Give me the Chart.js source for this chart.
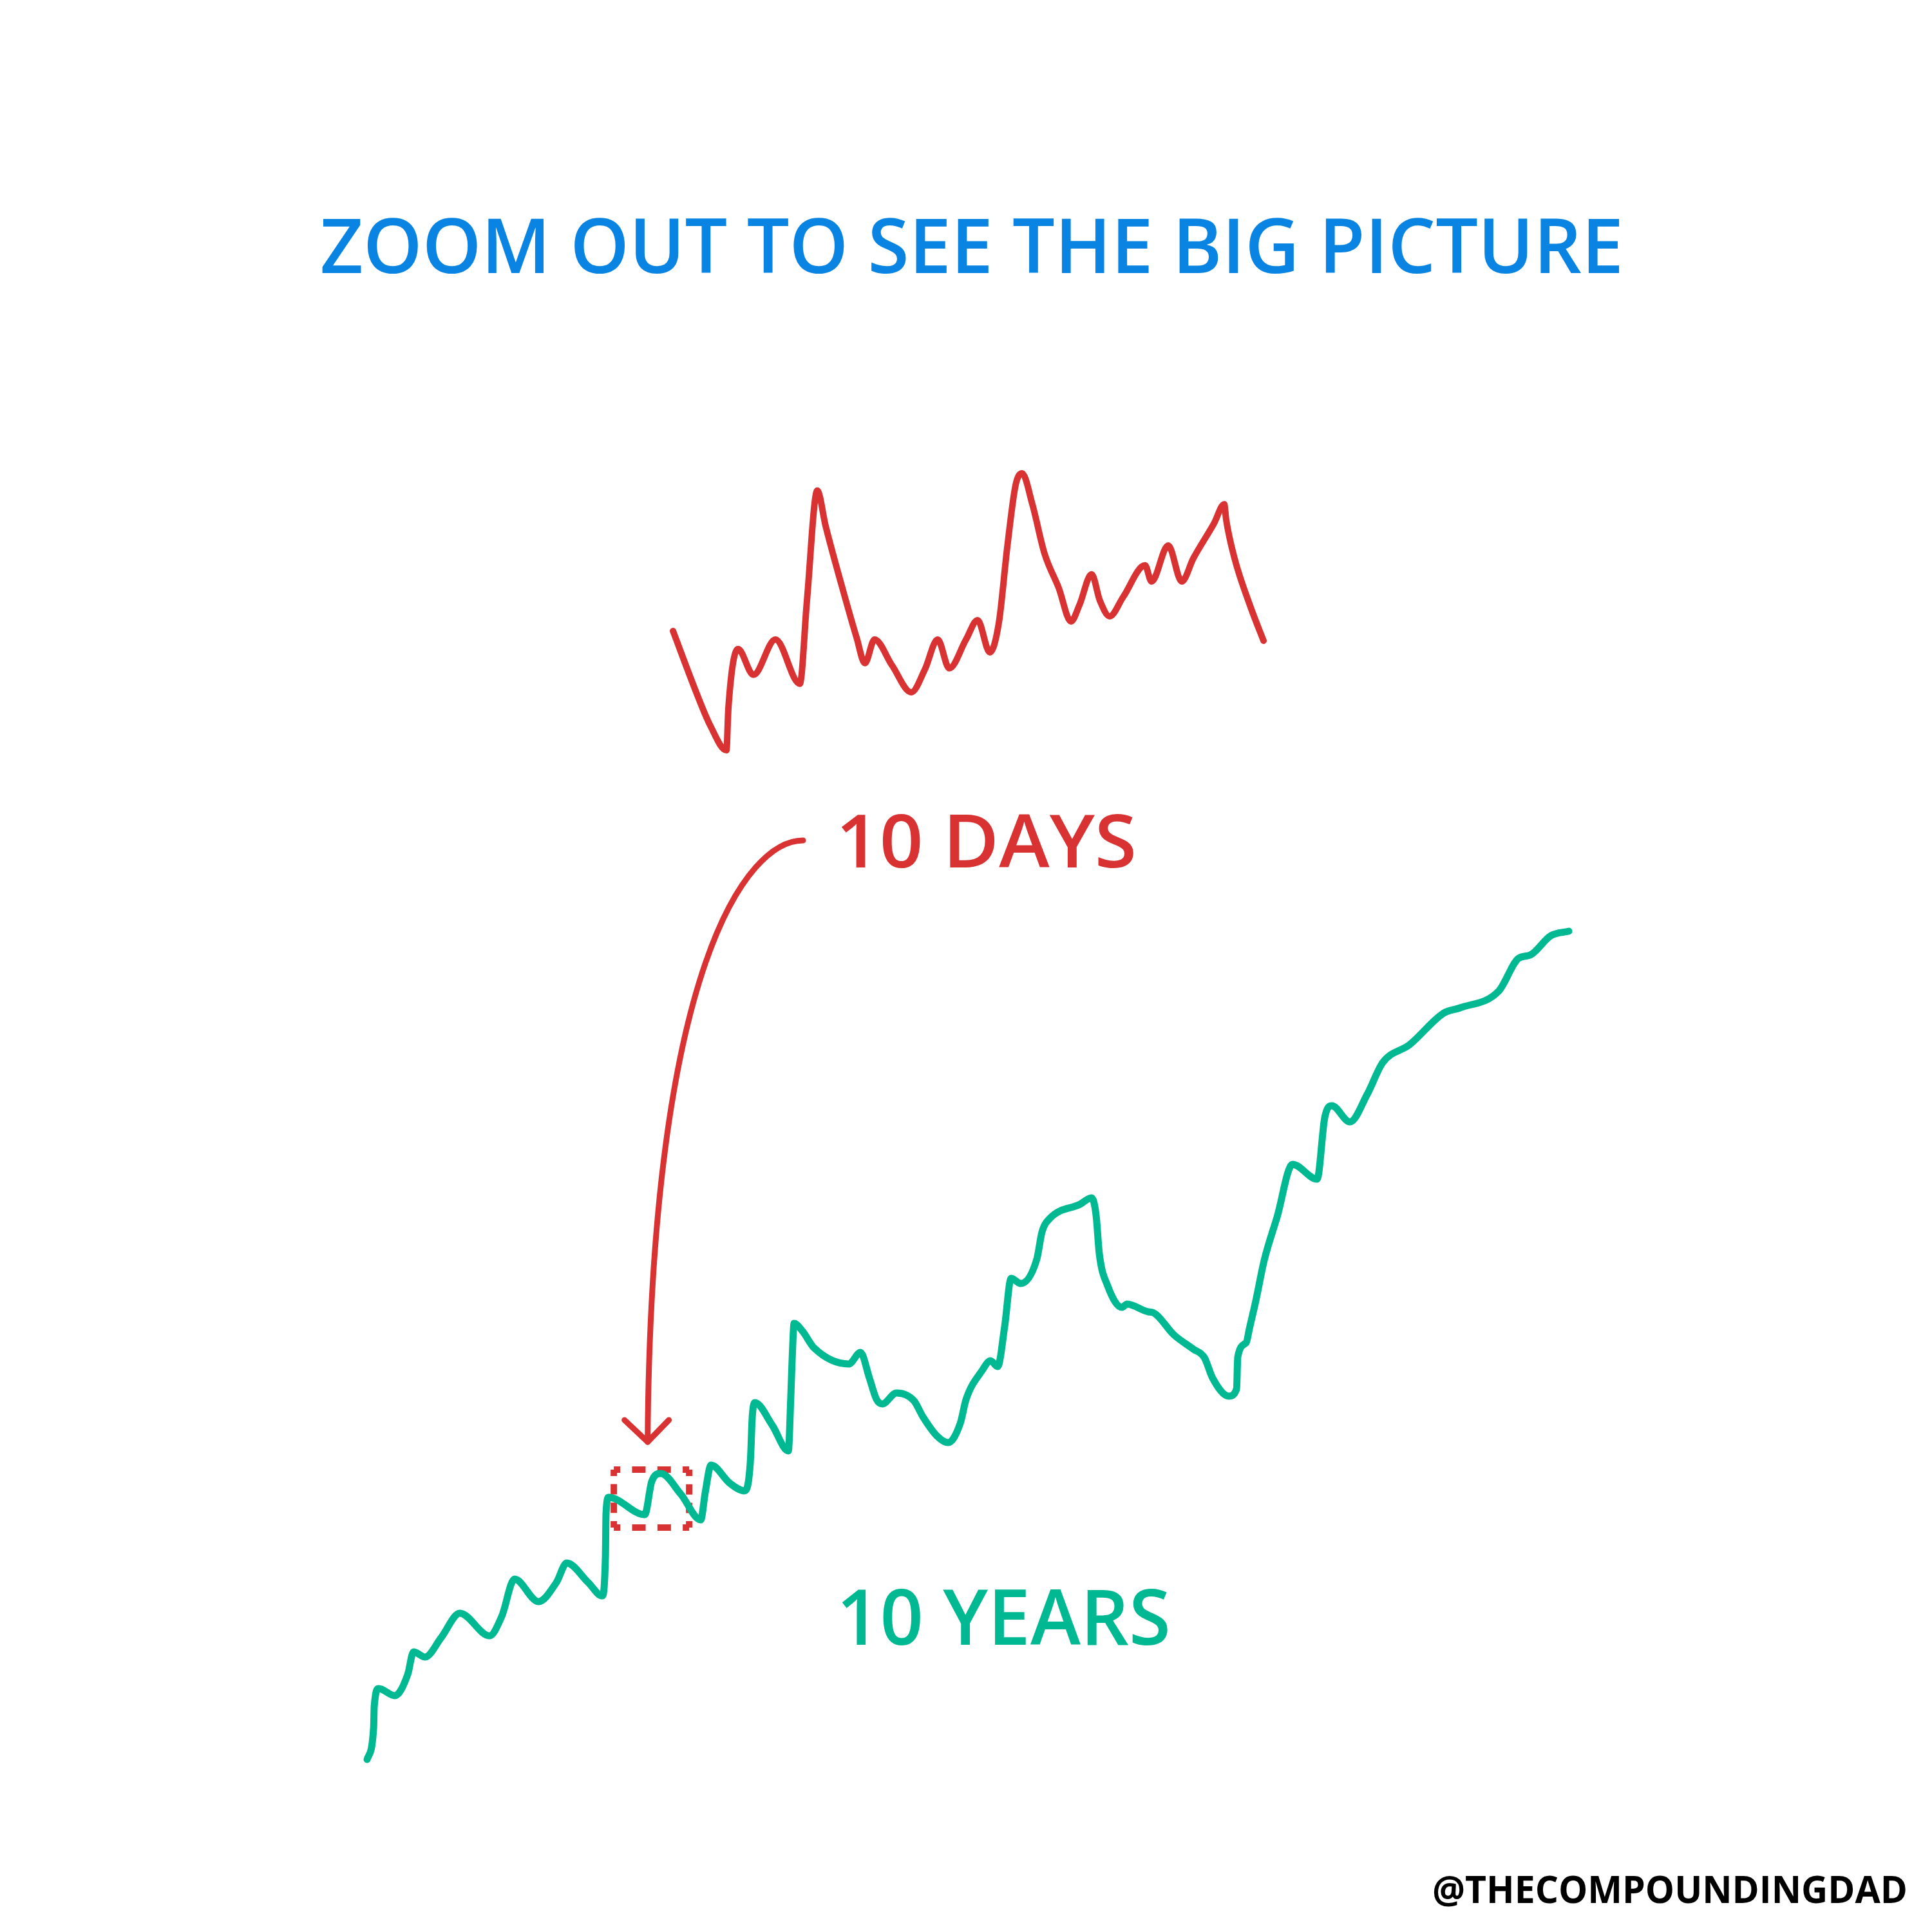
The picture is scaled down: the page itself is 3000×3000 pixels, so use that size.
<!DOCTYPE html>
<html>
<head>
<meta charset="utf-8">
<script src="https://cdn.jsdelivr.net/npm/chart.js@4.4.1/dist/chart.umd.min.js"></script>
<style>
  html, body { margin: 0; padding: 0; background: #ffffff; }
  #wrap { position: relative; width: 3000px; height: 3000px; overflow: hidden; background: #ffffff; }
  #chart { position: absolute; left: 0; top: 0; }
  .lbl { position: absolute; white-space: nowrap; transform-origin: 0 0; font-family: "Open Sans", "DejaVu Sans", sans-serif; font-weight: 600; margin: 0; }
</style>
</head>
<body>
<div id="wrap">
  <canvas id="chart" width="3000" height="3000"></canvas>
  <div class="lbl" id="title"></div>
  <div class="lbl" id="daysLbl"></div>
  <div class="lbl" id="yearsLbl"></div>
  <div class="lbl" id="handle"></div>
</div>
<script>
// ---------- DATA ----------
// 10-day price path (x = day, y = price index)
const redDays = [0.000, 0.414, 0.633, 0.905, 0.938, 1.101, 1.363, 1.734, 2.148, 2.268, 2.443, 2.585, 2.868, 3.108, 3.250, 3.413, 3.708, 4.035, 4.264, 4.482, 4.678, 4.962, 5.158, 5.365, 5.518, 5.660, 5.802, 5.911, 6.085, 6.292, 6.532, 6.739, 6.881, 7.088, 7.230, 7.394, 7.623, 7.993, 8.103, 8.386, 8.615, 8.811, 9.160, 9.335, 9.367, 9.509, 9.782, 10.000];
const redPrices = [104.63, 102.13, 100.95, 100.00, 101.63, 103.93, 102.93, 104.30, 102.58, 105.80, 110.08, 108.70, 106.30, 104.38, 103.38, 104.30, 103.30, 102.25, 103.13, 104.30, 103.18, 104.30, 105.05, 103.80, 104.95, 107.88, 110.30, 110.75, 109.55, 107.63, 106.30, 105.00, 105.63, 106.83, 105.80, 105.20, 105.95, 107.18, 106.55, 107.95, 106.55, 107.45, 108.80, 109.55, 108.95, 107.45, 105.55, 104.25];

// 10-year price path (x = year, y = price index)
const greenYears = [0.000, 0.054, 0.059, 0.096, 0.230, 0.338, 0.386, 0.482, 0.616, 0.772, 1.018, 1.120, 1.227, 1.426, 1.576, 1.661, 1.838, 1.956, 1.983, 1.988, 2.010, 2.310, 2.369, 2.444, 2.610, 2.776, 2.814, 2.862, 3.017, 3.140, 3.189, 3.205, 3.226, 3.371, 3.505, 3.526, 3.537, 3.553, 3.623, 3.719, 4.009, 4.105, 4.180, 4.239, 4.287, 4.405, 4.550, 4.625, 4.743, 4.834, 4.936, 4.984, 5.118, 5.188, 5.247, 5.305, 5.359, 5.439, 5.573, 5.616, 5.681, 5.932, 6.029, 6.066, 6.093, 6.163, 6.281, 6.324, 6.501, 6.538, 6.715, 6.876, 6.967, 7.036, 7.170, 7.235, 7.245, 7.315, 7.342, 7.395, 7.465, 7.572, 7.701, 7.905, 7.969, 8.028, 8.178, 8.323, 8.451, 8.676, 8.960, 9.094, 9.416, 9.582, 9.678, 9.850, 10.000];
const greenPrices = [100.0, 109.8, 116.4, 122.0, 119.8, 126.4, 133.4, 131.8, 137.8, 145.4, 138.4, 144.4, 156.0, 149.0, 155.0, 161.0, 155.0, 150.8, 163.0, 176.4, 181.4, 176.0, 186.4, 188.8, 182.4, 174.4, 183.0, 191.4, 185.8, 183.4, 192.4, 206.4, 210.8, 203.8, 195.8, 213.0, 224.4, 235.4, 233.0, 227.8, 222.8, 226.4, 218.4, 211.8, 210.4, 213.8, 211.4, 206.4, 200.4, 198.4, 204.4, 211.8, 220.8, 223.8, 222.0, 234.4, 249.4, 247.8, 255.4, 263.8, 268.0, 272.4, 274.4, 269.0, 257.0, 247.0, 240.4, 241.4, 239.0, 238.8, 231.8, 227.4, 224.8, 218.4, 212.8, 215.0, 225.0, 229.4, 233.8, 242.4, 255.0, 268.4, 284.8, 280.2, 299.4, 303.0, 298.0, 306.6, 316.4, 322.0, 331.8, 333.4, 338.6, 348.8, 349.8, 355.8, 357.2];

// dotted box corners: the 10-day window inside the 10-year path (TL, TR, BR, BL)
const boxYears = [2.053, 2.680, 2.680, 2.053];
const boxPrices = [190, 190, 172, 172];

// texts
const titleText = "ZOOM OUT TO SEE THE BIG PICTURE";
const daysText = "10 DAYS";
const yearsText = "10 YEARS";
const handleText = "@THECOMPOUNDINGDAD";

// ---------- STYLE / LAYOUT ----------
const BLUE = "#0a84e2", RED = "#d83232", GREEN = "#00b993";
const layout = {
  title:  { x: 500,  y: 340,  w: 2014, h: 85, color: BLUE, weight: 600 },
  days:   { x: 1306, y: 1265, w: 454,  h: 83, color: RED, weight: 600 },
  years:  { x: 1307, y: 2468, w: 506,  h: 87, color: GREEN, weight: 600 },
  handle: { x: 2226, y: 2912, w: 733,  h: 43, color: "#000000", weight: 700 }
};
// hidden axis windows that place each series on the page
const axes = {
  xDays:  { min: -11.396, max: 21.319 },
  yDays:  { min: 54.125,  max: 129.125 },
  xYears: { min: -3.055,  max: 13.022 },
  yYears: { min: 46.4,    max: 646.4 }
};
// dash styles of box edges: horizontal edges / vertical edges
const dashH = { dash: [21, 18.3], offset: 11 };
const dashV = { dash: [16, 12.7], offset: 6 };

function zip(xs, ys) { return xs.map((x, i) => ({ x: x, y: ys[i] })); }

function placeText(el, text, box) {
  el.textContent = text;
  el.style.color = box.color;
  el.style.fontWeight = box.weight;
  const fam = getComputedStyle(el).fontFamily;
  const ctx = document.createElement("canvas").getContext("2d");
  const base = 100;
  ctx.font = box.weight + " " + base + "px " + fam;
  const m = ctx.measureText(text);
  const s = box.h / m.actualBoundingBoxAscent;
  const fs = base * s;
  const inkW = (m.actualBoundingBoxLeft + m.actualBoundingBoxRight) * s;
  const sx = box.w / inkW;
  const fA = m.fontBoundingBoxAscent * s, fD = m.fontBoundingBoxDescent * s;
  el.style.fontSize = fs + "px";
  el.style.lineHeight = (fA + fD) + "px";
  el.style.top = (box.y + box.h - fA) + "px";
  el.style.left = (box.x + m.actualBoundingBoxLeft * s * sx) + "px";
  el.style.transform = "scaleX(" + sx + ")";
}

const arrowPlugin = {
  id: "zoomArrow",
  afterDatasetsDraw(chart) {
    const c = chart.ctx;
    const xs = chart.scales.xYears, ys = chart.scales.yYears;
    const bx0 = xs.getPixelForValue(boxYears[0]);
    const bx1 = xs.getPixelForValue(boxYears[1]);
    const btop = ys.getPixelForValue(boxPrices[0]);
    const tip = { x: (bx0 + bx1) / 2 - 6, y: btop - 43 };
    const start = { x: layout.days.x - 59, y: layout.days.y + 40 };
    c.save();
    c.strokeStyle = RED;
    c.lineWidth = 9;
    c.lineCap = "round";
    c.lineJoin = "round";
    c.beginPath();
    c.moveTo(start.x, start.y);
    c.bezierCurveTo(start.x - 87, start.y, tip.x + 5, start.y + 195, tip.x, tip.y);
    c.stroke();
    c.beginPath();
    c.moveTo(tip.x - 36, tip.y - 34);
    c.lineTo(tip.x, tip.y);
    c.lineTo(tip.x + 33, tip.y - 34);
    c.stroke();
    c.restore();
  }
};

function boxEdges() {
  const out = [];
  for (let i = 0; i < 4; i++) {
    const j = (i + 1) % 4;
    const horizontal = boxPrices[i] === boxPrices[j];
    const st = horizontal ? dashH : dashV;
    out.push({
      label: "window edge " + (i + 1),
      data: zip([boxYears[i], boxYears[j]], [boxPrices[i], boxPrices[j]]),
      xAxisID: "xYears", yAxisID: "yYears",
      borderColor: RED, borderWidth: 10, tension: 0, pointRadius: 0,
      borderDash: st.dash, borderDashOffset: st.offset, borderCapStyle: "butt", fill: false
    });
  }
  return out;
}

function build() {
  placeText(document.getElementById("title"), titleText, layout.title);
  placeText(document.getElementById("daysLbl"), daysText, layout.days);
  placeText(document.getElementById("yearsLbl"), yearsText, layout.years);
  placeText(document.getElementById("handle"), handleText, layout.handle);

  const hidden = (id, pos) => ({ type: "linear", display: false, position: pos, min: axes[id].min, max: axes[id].max });

  new Chart(document.getElementById("chart"), {
    type: "line",
    data: {
      datasets: [
        {
          label: "10 days", data: zip(redDays, redPrices), xAxisID: "xDays", yAxisID: "yDays",
          borderColor: RED, borderWidth: 10, cubicInterpolationMode: "monotone", pointRadius: 0,
          borderCapStyle: "round", borderJoinStyle: "round", fill: false
        },
        {
          label: "10 years", data: zip(greenYears, greenPrices), xAxisID: "xYears", yAxisID: "yYears",
          borderColor: GREEN, borderWidth: 11, cubicInterpolationMode: "monotone", pointRadius: 0,
          borderCapStyle: "round", borderJoinStyle: "round", fill: false
        }
      ].concat(boxEdges())
    },
    options: {
      responsive: false,
      animation: false,
      layout: { padding: 0 },
      clip: false,
      events: [],
      plugins: { legend: { display: false }, title: { display: false }, tooltip: { enabled: false } },
      scales: {
        xDays: hidden("xDays", "bottom"),
        yDays: hidden("yDays", "left"),
        xYears: hidden("xYears", "bottom"),
        yYears: hidden("yYears", "left")
      }
    },
    plugins: [arrowPlugin]
  });
}

if (document.fonts && document.fonts.ready) {
  document.fonts.ready.then(build);
} else {
  build();
}
</script>
</body>
</html>
